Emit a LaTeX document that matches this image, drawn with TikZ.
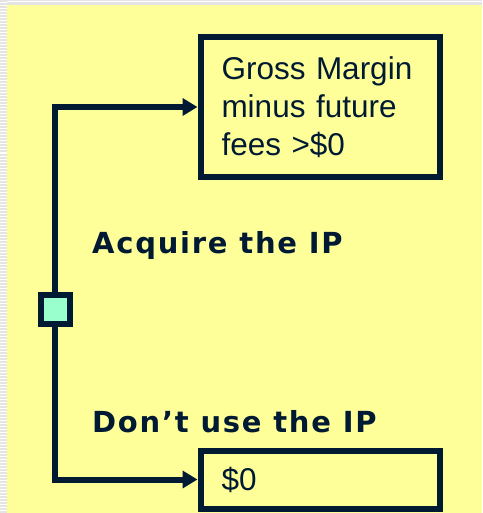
\documentclass[tikz,border=0pt]{standalone}
\usepackage{fontspec}
\setmainfont{Liberation Sans}
\newfontfamily\choicefont[LetterSpace=6]{DejaVu Sans Bold}
\usepackage{tikz}
\usetikzlibrary{arrows.meta}
\usetikzlibrary{positioning}
\definecolor{paper}{HTML}{FFFF99}
\definecolor{ink}{HTML}{001A33}
\definecolor{mint}{HTML}{99FFCC}
\definecolor{strip}{HTML}{E4E4E4}

\tikzset{
  outcome/.style={draw=ink, line width=6pt, align=left, inner xsep=21pt,
    text=ink, font=\fontsize{31.5}{38}\selectfont},
  branch/.style={draw=ink, line width=6pt, -{Triangle[length=15pt,width=17pt]}},
  choice/.style={anchor=base west, text=ink, inner sep=0pt,
    font=\choicefont\fontsize{29}{32}\selectfont}
}

\begin{document}
\begin{tikzpicture}[x=1pt,y=-1pt]
\useasboundingbox (0,0) rectangle (482,513);
\fill[paper] (0,0) rectangle (482,513);
\fill[strip] (0,0) rectangle (482,5);
\fill[strip] (0,0) rectangle (7,513);
\foreach \y in {0,3,...,513}
  \draw[white, line width=1pt] (0,\y) -- (7,\y);
\draw[white, line width=1pt] (7,2) -- (482,2);

\node[outcome, text width=197pt, minimum height=139pt] (gross) at (320,107)
  {Gross Margin\\minus future\\fees >\$0};
\node[outcome, text width=197pt, minimum height=58pt] (zero) at (320,479.5) {\$0};
\node[draw=ink, fill=mint, line width=6pt, minimum size=29pt, inner sep=0pt] (chance) at (55,309.5) {};

\node[choice] (acquire) at (92,253) {Acquire the IP};
\node[choice] (dontuse) at (92,432) {Don’t use the IP};

\draw[branch] (chance.north) |- (gross.west);
\draw[branch] (chance.south) |- (zero.west);
\end{tikzpicture}
\end{document}
